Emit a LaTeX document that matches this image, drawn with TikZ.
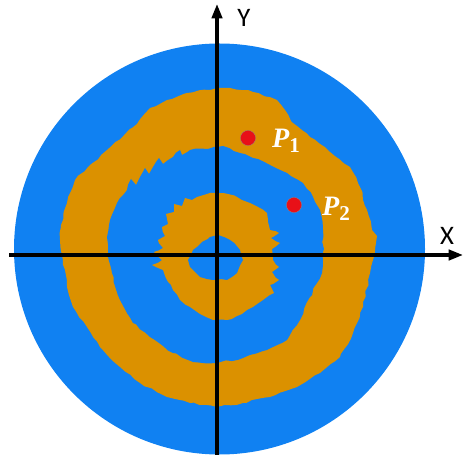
\documentclass[tikz,border=0pt]{standalone}
\usepackage{fontspec}
\newfontfamily\axisfont{Carlito}
\newfontfamily\ptfont{Liberation Serif}
\usetikzlibrary{positioning, arrows.meta, decorations.pathmorphing}

\definecolor{ringblue}{RGB}{16,129,242}
\definecolor{ringorange}{RGB}{219,145,0}
\definecolor{dotred}{RGB}{232,16,24}

\newcommand{\ptname}[1]{{\bfseries\itshape P}\raisebox{-0.35ex}{\fontsize{15}{17}\selectfont\bfseries #1}}

\begin{document}
\begin{tikzpicture}[
  x=0.25mm, y=-0.25mm,
  jag/.style={decorate, decoration={random steps, segment length=1.5mm, amplitude=0.25mm}},
  band/.style={fill=ringorange, jag},
  hole/.style={fill=ringblue, jag},
  axis/.style={line width=0.8mm, -{Triangle[length=3.6mm, width=2.6mm]}},
  axlabel/.style={font=\axisfont\fontsize{19}{22}\selectfont, inner sep=0pt},
  dot/.style={circle, fill=dotred, draw=black!45, line width=0.2pt, minimum size=3.8mm, inner sep=0pt},
  plabel/.style={text=white, font=\ptfont\fontsize{20}{22}\selectfont, inner sep=0pt}
]
\useasboundingbox (0,0) rectangle (464,455);
\pgfmathsetseed{7}

% disc
\fill[ringblue] (219.5,249) circle[radius=205.5*0.25mm];

% outer band
\fill[band] (217,88) -- (230,88) -- (253,92) -- (277,100) -- (285,110) -- (293,123)
  -- (310,137) -- (330,152) -- (350,167) -- (360,187) -- (367,210) -- (372,230)
  -- (377,236) -- (373,260) -- (370,273) -- (363,307) -- (353,333) -- (340,357)
  -- (320,373) -- (297,387) -- (270,397) -- (243,403) -- (217,407) -- (190,403)
  -- (167,397) -- (140,383) -- (120,367) -- (100,347) -- (87,327) -- (73,307)
  -- (67,287) -- (63,260) -- (60,240) -- (61,225) -- (67,203) -- (75,180)
  -- (88,167) -- (107,150) -- (132,128) -- (150,108) -- (187,93) -- cycle;
\fill[hole] (217,147) -- (223,146) -- (240,153) -- (253,158) -- (270,165) -- (287,173)
  -- (303,183) -- (313,197) -- (320,210) -- (323,230) -- (323,260) -- (322,273)
  -- (317,283) -- (310,297) -- (300,320) -- (287,340) -- (267,350) -- (243,358)
  -- (217,363) -- (193,362) -- (173,353) -- (150,337) -- (133,323) -- (120,300)
  -- (112,273) -- (108,257) -- (107,237) -- (110,220) -- (117,203) -- (127,190)
  -- (131,179) -- (136,185) -- (140,177) -- (145,168) -- (149,174) -- (153,167)
  -- (159,158) -- (163,164) -- (173,157) -- (180,150) -- (182,155) -- (190,150) -- cycle;

% inner band
\fill[band] (218,193) -- (228,194) -- (237,197) -- (250,203) -- (258,207) -- (267,213)
  -- (268,222) -- (270,230) -- (279,233) -- (271,238) -- (280,243) -- (272,249)
  -- (273,260) -- (279,267) -- (272,272) -- (279,280) -- (270,285) -- (274,293)
  -- (263,300) -- (247,310) -- (237,316) -- (227,320) -- (213,320) -- (200,314)
  -- (190,307) -- (180,300) -- (173,290) -- (168,282) -- (163,270) -- (152,265)
  -- (162,260) -- (154,252) -- (163,248) -- (158,240) -- (165,236) -- (162,227)
  -- (168,224) -- (166,214) -- (174,212) -- (174,204) -- (182,206) -- (185,198)
  -- (192,200) -- (197,197) -- (210,193) -- cycle;
\fill[hole] (218,235) -- (230,240) -- (240,250) -- (243,260) -- (237,273) -- (227,280)
  -- (213,280) -- (200,277) -- (190,267) -- (188,260) -- (193,250) -- (202,242)
  -- (210,237) -- cycle;

% axes
\coordinate (xs) at (9,255);
\coordinate (xe) at (463,255);
\coordinate (ys) at (217,455);
\coordinate (ye) at (217,4);
\draw[axis] (xs) -- (xe);
\draw[axis] (ys) -- (ye);
\node[axlabel] (ylab) at (244,18) {Y};
\node[axlabel] (xlab) at (447,236) {X};

% sample points
\node[dot] (p1) at (248,138) {};
\node[dot] (p2) at (294,205) {};
\node[plabel] (p1lab) at (286,141) {\ptname{1}};
\node[plabel] (p2lab) at (336,209) {\ptname{2}};
\end{tikzpicture}
\end{document}
